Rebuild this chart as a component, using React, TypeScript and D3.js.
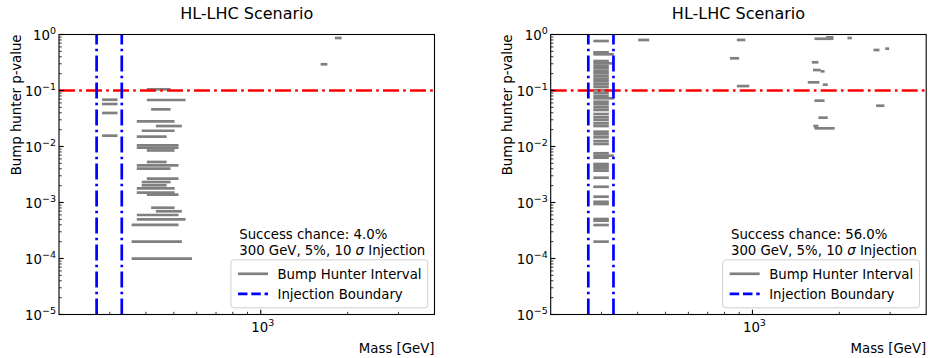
import React from "react";
import * as d3 from "d3";

// Axis ranges and reference lines
const massDomain: [number, number] = [200, 4000];
const pDomain: [number, number] = [1e-5, 1];
const injectionBounds = [270, 330];
const pThreshold = 0.1;
const yTickExponents = [0, -1, -2, -3, -4, -5];
const xTickExponents = [3];

// Bump hunter intervals: [mass low, mass high, p-value]
const intervalsLow: [number, number, number][] = [
  [282, 319, 0.0685],
  [282, 319, 0.0574],
  [282, 319, 0.0397],
  [282, 319, 0.0156],
  [403, 487, 0.105],
  [403, 549, 0.0677],
  [417, 487, 0.0461],
  [372, 503, 0.0282],
  [433, 533, 0.0232],
  [387, 503, 0.0191],
  [372, 472, 0.015],
  [372, 519, 0.0105],
  [372, 519, 0.0095],
  [403, 503, 0.0085],
  [403, 472, 0.00529],
  [372, 519, 0.00462],
  [372, 487, 0.00401],
  [403, 519, 0.00266],
  [387, 487, 0.00232],
  [387, 472, 0.00203],
  [372, 503, 0.00179],
  [372, 503, 0.0015],
  [403, 519, 0.00138],
  [417, 503, 0.000807],
  [433, 533, 0.000697],
  [372, 519, 0.000598],
  [372, 549, 0.000501],
  [357, 519, 0.000397],
  [357, 533, 0.0002],
  [357, 578, 0.0000991],
  [1613, 1702, 0.294],
  [1807, 1907, 0.866],
];

const intervalsHigh: [number, number, number][] = [
  [281, 318, 0.765],
  [281, 318, 0.48],
  [281, 331, 0.443],
  [281, 318, 0.336],
  [281, 331, 0.306],
  [281, 318, 0.277],
  [281, 318, 0.249],
  [281, 318, 0.223],
  [281, 318, 0.203],
  [281, 318, 0.182],
  [281, 318, 0.163],
  [281, 318, 0.146],
  [281, 318, 0.131],
  [281, 318, 0.117],
  [281, 318, 0.102],
  [281, 318, 0.0914],
  [281, 318, 0.0807],
  [281, 331, 0.0726],
  [281, 318, 0.0631],
  [281, 318, 0.0567],
  [281, 318, 0.0501],
  [281, 318, 0.0449],
  [281, 318, 0.038],
  [281, 318, 0.0332],
  [281, 318, 0.0297],
  [281, 318, 0.0259],
  [281, 318, 0.0232],
  [281, 318, 0.0184],
  [281, 318, 0.0165],
  [281, 318, 0.0146],
  [281, 318, 0.0125],
  [281, 318, 0.0111],
  [281, 318, 0.00757],
  [281, 331, 0.00686],
  [281, 318, 0.00631],
  [281, 318, 0.00487],
  [281, 318, 0.00454],
  [281, 318, 0.00408],
  [281, 318, 0.0037],
  [281, 318, 0.00277],
  [281, 318, 0.00191],
  [281, 318, 0.00127],
  [281, 318, 0.00103],
  [281, 318, 0.00094],
  [281, 318, 0.000507],
  [281, 318, 0.000473],
  [281, 318, 0.000396],
  [281, 318, 0.0002],
  [402, 439, 0.798],
  [883, 945, 0.8],
  [836, 899, 0.376],
  [883, 975, 0.12],
  [1640, 1908, 0.84],
  [1800, 1908, 0.89],
  [2134, 2210, 0.866],
  [2626, 2755, 0.529],
  [2884, 2976, 0.558],
  [1606, 1693, 0.319],
  [1621, 1725, 0.232],
  [1721, 1778, 0.22],
  [1555, 1706, 0.14],
  [1753, 1824, 0.127],
  [1640, 1778, 0.0658],
  [2683, 2866, 0.0535],
  [1693, 1824, 0.0327],
  [1625, 1693, 0.0232],
  [1640, 1927, 0.0211],
];

const panelTitles = ["HL-LHC Scenario", "HL-LHC Scenario"];
const successChances = ["4.0%", "56.0%"];
const injectionNote = ["300 GeV, 5%, 10 ", "σ", " Injection"];
const legendLabels = ["Bump Hunter Interval", "Injection Boundary"];
const xLabel = "Mass [GeV]";
const yLabel = "Bump hunter p-value";

const FONT = "'DejaVu Sans', sans-serif";
const GRAY = "#808080";
const DASHDOT = "16 4.2 2.6 4.2";

type PanelProps = {
  left: number;
  intervals: [number, number, number][];
  title: string;
  chance: string;
};

function Pow10({ x, y, exp, anchor }: { x: number; y: number; exp: number; anchor: string }) {
  const e = exp < 0 ? `\u2212${-exp}` : `${exp}`;
  return (
    <text x={x} y={y} textAnchor={anchor} fontSize={13.3} fontFamily={FONT} fill="#000">
      10
      <tspan fontSize={9.5} dy={-5.5}>
        {e}
      </tspan>
    </text>
  );
}

function Panel({ left, intervals, title, chance }: PanelProps) {
  const top = 34.5;
  const bottom = 314.5;
  const width = 375.5;
  const right = left + width;
  const x = d3.scaleLog().domain(massDomain).range([left, right]);
  const y = d3.scaleLog().domain(pDomain).range([bottom, top]);

  const yMinor: number[] = [];
  for (let e = -5; e < 0; e++) {
    for (let k = 2; k <= 9; k++) yMinor.push(k * Math.pow(10, e));
  }
  const xMinor: number[] = [];
  [100, 1000].forEach((d) => {
    for (let k = 1; k <= 9; k++) {
      const v = k * d;
      if (v > massDomain[0] && v < massDomain[1] && v !== 1000) xMinor.push(v);
    }
  });

  const textX = left + 0.48 * width;
  const legendRight = right - 6.7;
  const legendLeft = left + 0.458 * width;
  const legendBottom = bottom - 6.7;
  const legendTop = legendBottom - 48;

  return (
    <g>
      <text x={(left + right) / 2} y={18.5} textAnchor="middle" fontSize={16} fontFamily={FONT}>
        {title}
      </text>

      {/* intervals */}
      {intervals.map(([lo, hi, p], i) => (
        <line key={i} x1={x(lo)} x2={x(hi)} y1={y(p)} y2={y(p)} stroke={GRAY} strokeWidth={2.7} />
      ))}

      {/* threshold */}
      <line
        x1={left}
        x2={right}
        y1={y(pThreshold)}
        y2={y(pThreshold)}
        stroke="#ff0000"
        strokeWidth={2.7}
        strokeDasharray={DASHDOT}
      />
      {/* injection boundaries, drawn bottom-up */}
      {injectionBounds.map((m, i) => (
        <line
          key={i}
          x1={x(m)}
          x2={x(m)}
          y1={bottom}
          y2={top}
          stroke="#0000ff"
          strokeWidth={2.7}
          strokeDasharray={DASHDOT}
        />
      ))}

      {/* frame */}
      <rect x={left} y={top} width={width} height={bottom - top} fill="none" stroke="#000" strokeWidth={1.1} />

      {/* y ticks */}
      {yTickExponents.map((e) => (
        <g key={e}>
          <line x1={left} x2={left + 4.7} y1={y(Math.pow(10, e))} y2={y(Math.pow(10, e))} stroke="#000" strokeWidth={1.1} />
          <Pow10 x={left - 3} y={y(Math.pow(10, e)) + 5} exp={e} anchor="end" />
        </g>
      ))}
      {yMinor.map((v, i) => (
        <line key={i} x1={left} x2={left + 2.7} y1={y(v)} y2={y(v)} stroke="#000" strokeWidth={0.8} />
      ))}

      {/* x ticks */}
      {xTickExponents.map((e) => (
        <g key={e}>
          <line x1={x(Math.pow(10, e))} x2={x(Math.pow(10, e))} y1={bottom} y2={bottom - 4.7} stroke="#000" strokeWidth={1.1} />
          <Pow10 x={x(Math.pow(10, e)) + 2} y={bottom + 17} exp={e} anchor="middle" />
        </g>
      ))}
      {xMinor.map((v, i) => (
        <line key={i} x1={x(v)} x2={x(v)} y1={bottom} y2={bottom - 2.7} stroke="#000" strokeWidth={0.8} />
      ))}

      {/* axis labels */}
      <text x={right} y={352.5} textAnchor="end" fontSize={13.3} fontFamily={FONT}>
        {xLabel}
      </text>
      <text
        transform={`translate(${left - 38.5},${top}) rotate(-90)`}
        textAnchor="end"
        fontSize={13.3}
        fontFamily={FONT}
      >
        {yLabel}
      </text>

      {/* annotation */}
      <text x={textX} y={238.5} fontSize={13.3} fontFamily={FONT}>
        Success chance: {chance}
      </text>
      <text x={textX} y={254.5} fontSize={13.3} fontFamily={FONT}>
        {injectionNote[0]}
        <tspan fontStyle="italic">{injectionNote[1]}</tspan>
        {injectionNote[2]}
      </text>

      {/* legend */}
      <rect
        x={legendLeft}
        y={legendTop}
        width={legendRight - legendLeft}
        height={legendBottom - legendTop}
        rx={3}
        fill="#fff"
        fillOpacity={0.8}
        stroke="#d0d0d0"
        strokeWidth={1}
      />
      <line x1={legendLeft + 7} x2={legendLeft + 37} y1={legendTop + 14} y2={legendTop + 14} stroke={GRAY} strokeWidth={2.7} />
      <text x={legendLeft + 46.5} y={legendTop + 19} fontSize={13.3} fontFamily={FONT}>
        {legendLabels[0]}
      </text>
      <line
        x1={legendLeft + 7}
        x2={legendLeft + 37}
        y1={legendTop + 34}
        y2={legendTop + 34}
        stroke="#0000ff"
        strokeWidth={2.7}
        strokeDasharray="9.5 3.8"
      />
      <text x={legendLeft + 46.5} y={legendTop + 39} fontSize={13.3} fontFamily={FONT}>
        {legendLabels[1]}
      </text>
    </g>
  );
}

export default function App() {
  return (
    <svg
      width={928}
      height={358}
      style={{ position: "absolute", left: 0, top: 0, background: "#fff" }}
    >
      <rect width={928} height={358} fill="#fff" />
      <Panel left={59} intervals={intervalsLow} title={panelTitles[0]} chance={successChances[0]} />
      <Panel left={550.7} intervals={intervalsHigh} title={panelTitles[1]} chance={successChances[1]} />
    </svg>
  );
}
